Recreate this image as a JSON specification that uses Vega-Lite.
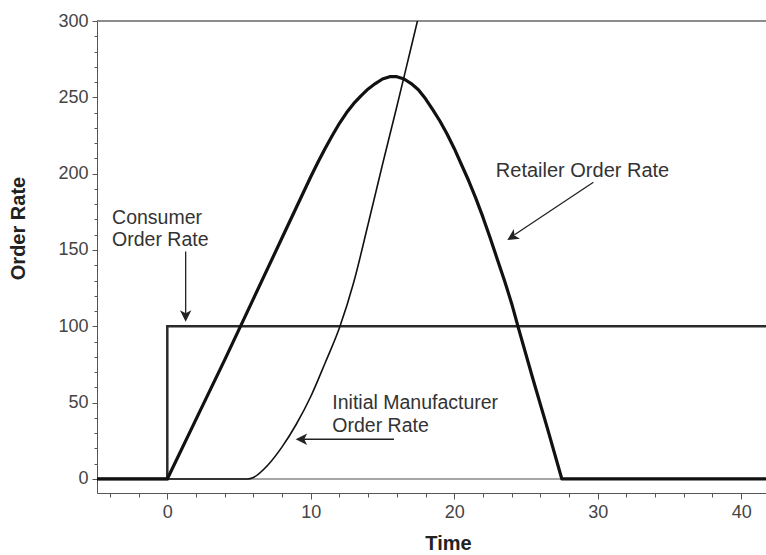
{
  "$schema": "https://vega.github.io/schema/vega-lite/v6.json",
  "autosize": {"type": "none"},
  "padding": {"left": 97, "top": 21, "right": 0, "bottom": 62},
  "width": 670,
  "height": 472,
  "background": "white",
  "config": {
    "view": {"stroke": null},
    "font": "Liberation Sans",
    "axis": {"labelFont": "Liberation Sans", "titleFont": "Liberation Sans", "domainColor": "#555", "tickColor": "#555", "labelColor": "#444", "titleColor": "#222", "grid": false, "labelOverlap": false}
  },
  "datasets": {
    "one": [{}],
    "curves": [
      {"series": "Consumer", "t": -5, "v": 0, "k": 0},
      {"series": "Consumer", "t": 0, "v": 0, "k": 1},
      {"series": "Consumer", "t": 0, "v": 100, "k": 2},
      {"series": "Consumer", "t": 42, "v": 100, "k": 3},
      {"series": "Retailer", "t": -5, "v": 0, "k": 0},
      {"series": "Retailer", "t": 0, "v": 0, "k": 1},
      {"series": "Retailer", "t": 2, "v": 39, "k": 2},
      {"series": "Retailer", "t": 4, "v": 78, "k": 3},
      {"series": "Retailer", "t": 6, "v": 118, "k": 4},
      {"series": "Retailer", "t": 8, "v": 158, "k": 5},
      {"series": "Retailer", "t": 9, "v": 178, "k": 6},
      {"series": "Retailer", "t": 10, "v": 198, "k": 7},
      {"series": "Retailer", "t": 10.5, "v": 207.5, "k": 8},
      {"series": "Retailer", "t": 11, "v": 216.5, "k": 9},
      {"series": "Retailer", "t": 11.5, "v": 225, "k": 10},
      {"series": "Retailer", "t": 12, "v": 233, "k": 11},
      {"series": "Retailer", "t": 12.5, "v": 240, "k": 12},
      {"series": "Retailer", "t": 13, "v": 246, "k": 13},
      {"series": "Retailer", "t": 13.5, "v": 251, "k": 14},
      {"series": "Retailer", "t": 14, "v": 255.5, "k": 15},
      {"series": "Retailer", "t": 14.5, "v": 259, "k": 16},
      {"series": "Retailer", "t": 15, "v": 262, "k": 17},
      {"series": "Retailer", "t": 15.5, "v": 263.5, "k": 18},
      {"series": "Retailer", "t": 16, "v": 263.5, "k": 19},
      {"series": "Retailer", "t": 16.5, "v": 262, "k": 20},
      {"series": "Retailer", "t": 17, "v": 259, "k": 21},
      {"series": "Retailer", "t": 17.5, "v": 255, "k": 22},
      {"series": "Retailer", "t": 18, "v": 249, "k": 23},
      {"series": "Retailer", "t": 18.5, "v": 242, "k": 24},
      {"series": "Retailer", "t": 19, "v": 234.5, "k": 25},
      {"series": "Retailer", "t": 19.5, "v": 226, "k": 26},
      {"series": "Retailer", "t": 20, "v": 216.5, "k": 27},
      {"series": "Retailer", "t": 20.5, "v": 206, "k": 28},
      {"series": "Retailer", "t": 21, "v": 195.5, "k": 29},
      {"series": "Retailer", "t": 21.5, "v": 184, "k": 30},
      {"series": "Retailer", "t": 22, "v": 171.5, "k": 31},
      {"series": "Retailer", "t": 22.5, "v": 158, "k": 32},
      {"series": "Retailer", "t": 23, "v": 144, "k": 33},
      {"series": "Retailer", "t": 23.5, "v": 130, "k": 34},
      {"series": "Retailer", "t": 24, "v": 115, "k": 35},
      {"series": "Retailer", "t": 24.5, "v": 98, "k": 36},
      {"series": "Retailer", "t": 25.5, "v": 65, "k": 37},
      {"series": "Retailer", "t": 26.5, "v": 33, "k": 38},
      {"series": "Retailer", "t": 27.5, "v": 0, "k": 39},
      {"series": "Retailer", "t": 42, "v": 0, "k": 40},
      {"series": "Manufacturer", "t": -5, "v": 0, "k": 0},
      {"series": "Manufacturer", "t": 5.6, "v": 0, "k": 1},
      {"series": "Manufacturer", "t": 6, "v": 1, "k": 2},
      {"series": "Manufacturer", "t": 7, "v": 9, "k": 3},
      {"series": "Manufacturer", "t": 8, "v": 21, "k": 4},
      {"series": "Manufacturer", "t": 9, "v": 36, "k": 5},
      {"series": "Manufacturer", "t": 10, "v": 54, "k": 6},
      {"series": "Manufacturer", "t": 11, "v": 76, "k": 7},
      {"series": "Manufacturer", "t": 12, "v": 99, "k": 8},
      {"series": "Manufacturer", "t": 13, "v": 129, "k": 9},
      {"series": "Manufacturer", "t": 14, "v": 167, "k": 10},
      {"series": "Manufacturer", "t": 15, "v": 206, "k": 11},
      {"series": "Manufacturer", "t": 16, "v": 244, "k": 12},
      {"series": "Manufacturer", "t": 17, "v": 283, "k": 13},
      {"series": "Manufacturer", "t": 18, "v": 322, "k": 14}
    ]
  },
  "layer": [
    {
      "data": {"name": "one"},
      "mark": {"type": "rule", "color": "#666", "strokeWidth": 1.5},
      "encoding": {
        "x": {"datum": -4.9, "type": "quantitative", "scale": {"domain": [-4.9, 41.8], "nice": false, "zero": false},
          "axis": {"title": "Time", "values": [-4, -2, 0, 2, 4, 6, 8, 10, 12, 14, 16, 18, 20, 22, 24, 26, 28, 30, 32, 34, 36, 38, 40], "tickCount": 200, "format": "d",
            "labelExpr": "datum.value % 10 === 0 ? datum.label : ''", "labelFontSize": 18, "labelPadding": 4, "labelOverlap": false, "labelBound": false, "labelFlush": false,
            "tickSize": {"condition": {"test": "datum.value % 10 === 0", "value": 6}, "value": 4},
            "titleFontSize": 20, "titleFontWeight": "bold", "titleX": 351, "titleY": 50, "titleBaseline": "middle", "titleAlign": "center"}},
        "x2": {"datum": 41.8},
        "y": {"datum": 300, "type": "quantitative", "scale": {"domain": [-9.2, 300], "nice": false, "zero": false},
          "axis": {"title": "Order Rate", "values": [0, 10, 20, 30, 40, 50, 60, 70, 80, 90, 100, 110, 120, 130, 140, 150, 160, 170, 180, 190, 200, 210, 220, 230, 240, 250, 260, 270, 280, 290, 300], "tickCount": 200, "format": "d",
            "labelExpr": "datum.value % 50 === 0 ? datum.label : ''", "labelFontSize": 18, "labelPadding": 4, "labelOverlap": false, "labelBound": false, "labelFlush": false,
            "tickSize": {"condition": {"test": "datum.value % 50 === 0", "value": 5}, "value": 3},
            "titleFontSize": 20, "titleFontWeight": "bold", "titleX": -79, "titleY": 207, "titleBaseline": "middle", "titleAlign": "center", "titleAngle": -90}}
      }
    },
    {
      "data": {"name": "one"},
      "mark": {"type": "rule", "color": "#888", "strokeWidth": 1.5},
      "encoding": {"x": {"datum": -4.9, "type": "quantitative"}, "x2": {"datum": 41.8}, "y": {"datum": 0, "type": "quantitative"}}
    },
    {
      "data": {"name": "curves"},
      "transform": [{"filter": "datum.series === 'Consumer'"}],
      "mark": {"type": "line", "color": "#2a2a2a", "strokeWidth": 2.5, "clip": true},
      "encoding": {"x": {"field": "t", "type": "quantitative"}, "y": {"field": "v", "type": "quantitative"}, "order": {"field": "k"}}
    },
    {
      "data": {"name": "curves"},
      "transform": [{"filter": "datum.series === 'Manufacturer'"}],
      "mark": {"type": "line", "color": "#111", "strokeWidth": 1.6, "clip": true, "interpolate": "monotone"},
      "encoding": {"x": {"field": "t", "type": "quantitative"}, "y": {"field": "v", "type": "quantitative"}, "order": {"field": "k"}}
    },
    {
      "data": {"name": "curves"},
      "transform": [{"filter": "datum.series === 'Retailer'"}],
      "mark": {"type": "line", "color": "#111", "strokeWidth": 3.2, "clip": true, "strokeJoin": "round"},
      "encoding": {"x": {"field": "t", "type": "quantitative"}, "y": {"field": "v", "type": "quantitative"}, "order": {"field": "k"}}
    },
    {
      "data": {"name": "one"},
      "mark": {"type": "text", "align": "left", "baseline": "middle", "fontSize": 19.5, "color": "#333", "lineHeight": 22},
      "encoding": {"x": {"datum": -3.85, "type": "quantitative"}, "y": {"datum": 171, "type": "quantitative"}, "text": {"value": ["Consumer", "Order Rate"]}}
    },
    {
      "data": {"name": "one"},
      "mark": {"type": "text", "align": "left", "baseline": "middle", "fontSize": 20, "color": "#333"},
      "encoding": {"x": {"datum": 22.9, "type": "quantitative"}, "y": {"datum": 202, "type": "quantitative"}, "text": {"value": "Retailer Order Rate"}}
    },
    {
      "data": {"name": "one"},
      "mark": {"type": "text", "align": "left", "baseline": "middle", "fontSize": 19.5, "color": "#333", "lineHeight": 23},
      "encoding": {"x": {"datum": 11.5, "type": "quantitative"}, "y": {"datum": 49.7, "type": "quantitative"}, "text": {"value": ["Initial Manufacturer", "Order Rate"]}}
    },
    {
      "data": {"name": "one"},
      "mark": {"type": "rule", "color": "#222", "strokeWidth": 1.3},
      "encoding": {"x": {"datum": 1.28, "type": "quantitative"}, "y": {"datum": 149, "type": "quantitative"}, "y2": {"datum": 108}}
    },
    {
      "data": {"name": "one"},
      "mark": {"type": "rule", "color": "#222", "strokeWidth": 1.3},
      "encoding": {"x": {"datum": 29.7, "type": "quantitative"}, "y": {"datum": 194.4, "type": "quantitative"}, "x2": {"datum": 24.2}, "y2": {"datum": 160}}
    },
    {
      "data": {"name": "one"},
      "mark": {"type": "rule", "color": "#222", "strokeWidth": 1.3},
      "encoding": {"x": {"datum": 15.8, "type": "quantitative"}, "y": {"datum": 26, "type": "quantitative"}, "x2": {"datum": 9.5}, "y2": {"datum": 26}}
    },
    {
      "data": {"name": "one"},
      "mark": {"type": "point", "shape": "M -0.5 1 L 0 0 L 0.5 1 L 0 0.75 Z", "filled": true, "color": "#222", "size": 520, "opacity": 1, "angle": 180},
      "encoding": {"x": {"datum": 1.28, "type": "quantitative"}, "y": {"datum": 103, "type": "quantitative"}}
    },
    {
      "data": {"name": "one"},
      "mark": {"type": "point", "shape": "M -0.5 1 L 0 0 L 0.5 1 L 0 0.75 Z", "filled": true, "color": "#222", "size": 520, "opacity": 1, "angle": 237},
      "encoding": {"x": {"datum": 23.7, "type": "quantitative"}, "y": {"datum": 156.5, "type": "quantitative"}}
    },
    {
      "data": {"name": "one"},
      "mark": {"type": "point", "shape": "M -0.5 1 L 0 0 L 0.5 1 L 0 0.75 Z", "filled": true, "color": "#222", "size": 520, "opacity": 1, "angle": 270},
      "encoding": {"x": {"datum": 8.95, "type": "quantitative"}, "y": {"datum": 26, "type": "quantitative"}}
    }
  ]
}
